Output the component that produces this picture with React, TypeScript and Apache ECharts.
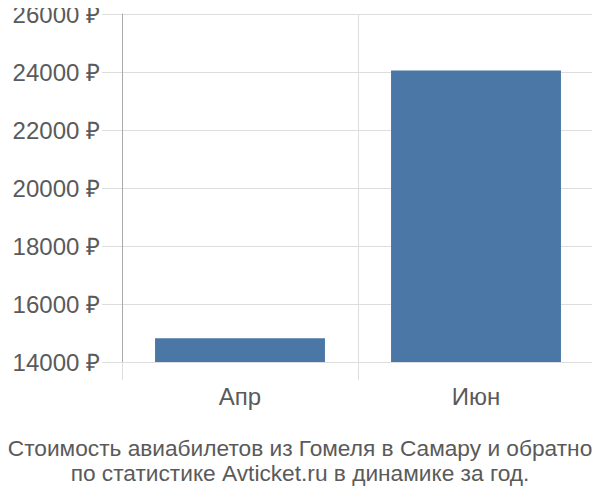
import React, { useEffect, useRef } from 'react';
import * as echarts from 'echarts';

// Месяцы и средняя стоимость билетов, ₽
const months = ['Апр', 'Июн'];
const prices = [14820, 24050];

const yMin = 14000;
const yMax = 26000;
const yStep = 2000;

const titleLines = [
  'Стоимость авиабилетов из Гомеля в Самару и обратно',
  'по статистике Avticket.ru в динамике за год.',
];

const textColor = '#5a5a5a';
const gridColor = '#dddddd';

export default function App() {
  const chartRef = useRef<HTMLDivElement>(null);

  useEffect(() => {
    const chart = echarts.init(chartRef.current!, undefined, { renderer: 'svg' });

    const option = {
      animation: false,
      textStyle: { fontFamily: '"Liberation Sans", Arial, sans-serif' },
      title: {
        text: titleLines.join('\n'),
        left: 'center',
        top: 430,
        textStyle: {
          fontSize: 22.7,
          fontWeight: 'normal',
          color: textColor,
          lineHeight: 25,
        },
      },
      grid: {
        left: 122,
        right: 6,
        top: 14,
        bottom: 138,
        containLabel: false,
      },
      xAxis: {
        type: 'category',
        data: months,
        axisLine: { show: false },
        axisTick: {
          show: true,
          length: 18,
          lineStyle: { color: gridColor },
        },
        splitLine: { show: true, lineStyle: { color: gridColor } },
        axisLabel: { fontSize: 24, color: textColor, margin: 22 },
      },
      yAxis: {
        type: 'value',
        min: yMin,
        max: yMax,
        interval: yStep,
        axisLine: { show: true, lineStyle: { color: '#aaa' } },
        axisTick: {
          show: true,
          length: 20,
          lineStyle: { color: gridColor },
        },
        splitLine: { show: true, lineStyle: { color: gridColor } },
        axisLabel: {
          fontSize: 24,
          color: textColor,
          margin: 22,
          formatter: (v: number) => `${v} ₽`,
        },
      },
      series: [
        {
          type: 'bar',
          data: prices,
          barWidth: '72%',
          itemStyle: { color: '#4a77a5' },
        },
      ],
    };

    chart.setOption(option);

    return () => {
      chart.dispose();
    };
  }, []);

  return <div ref={chartRef} style={{ width: '600px', height: '500px', margin: '-8px' }} />;
}
